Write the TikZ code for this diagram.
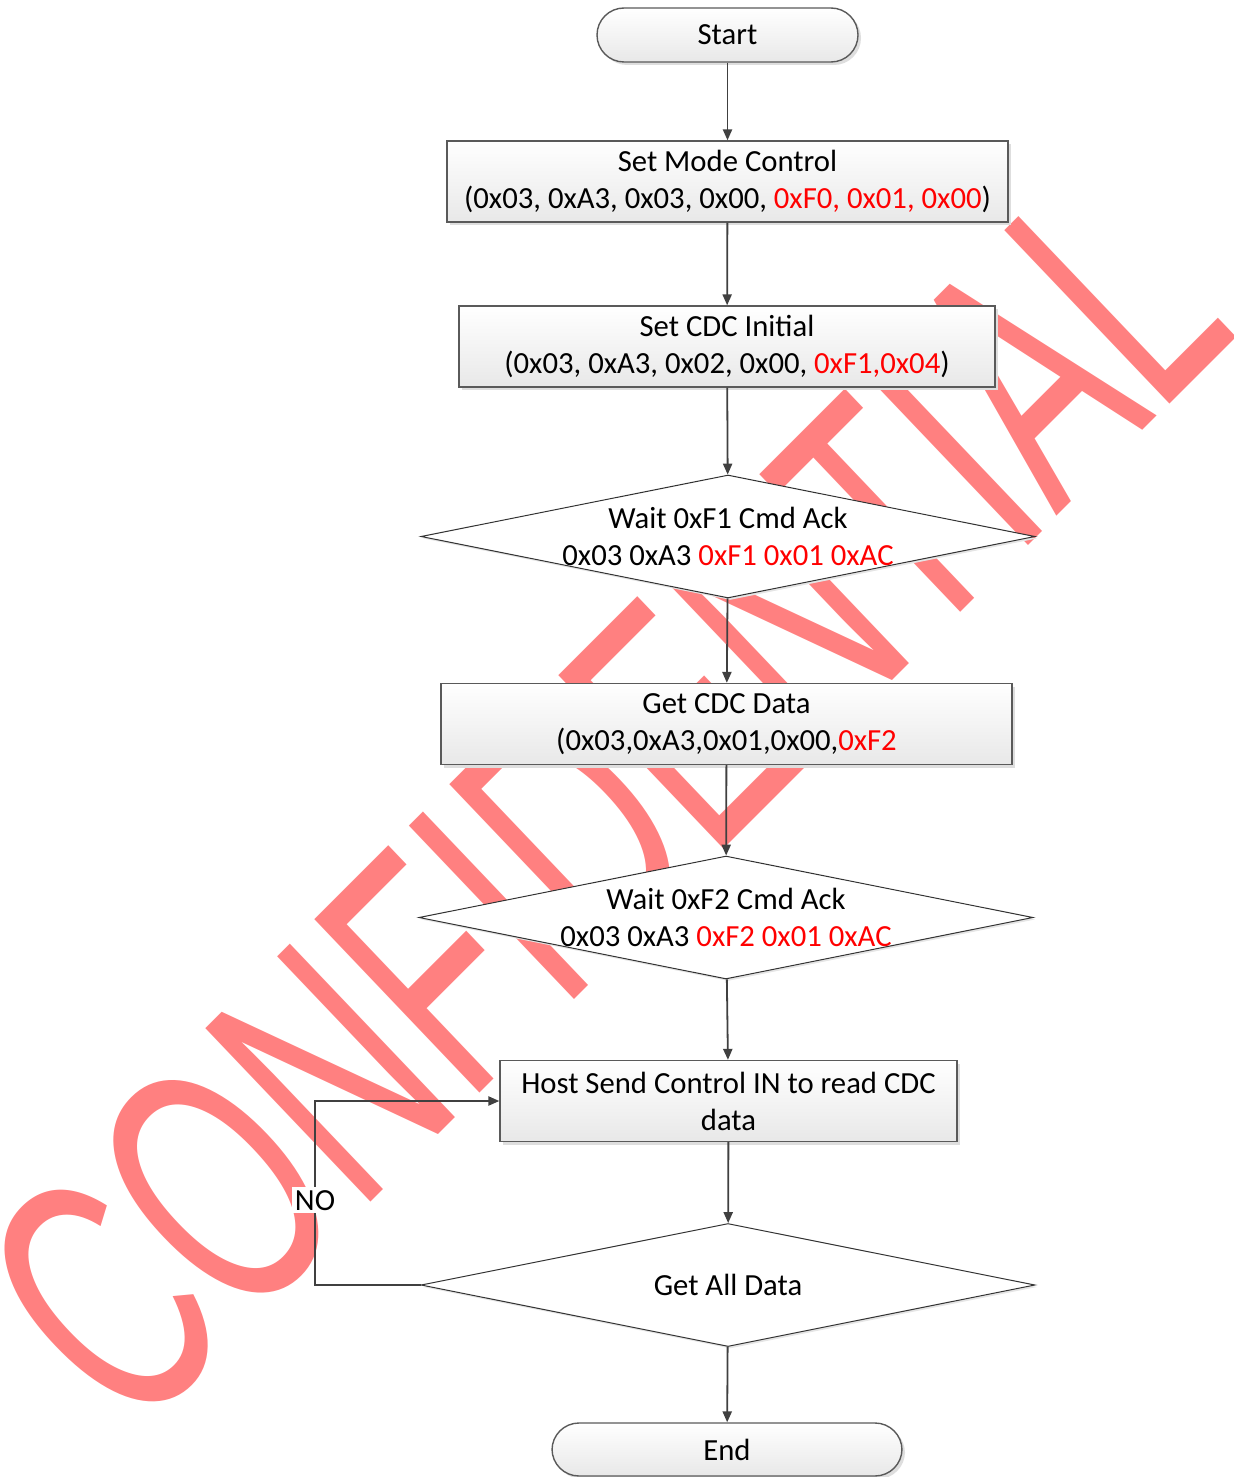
\documentclass[tikz,border=0pt]{standalone}
\usepackage{fontspec}
\setmainfont{Carlito}
\newfontfamily\wmfont{Liberation Sans}
\usetikzlibrary{positioning,shapes.geometric,arrows.meta,shadows}
\definecolor{wmred}{HTML}{FF8080}
\definecolor{hexred}{HTML}{FF0000}
\definecolor{linegray}{HTML}{404040}
\definecolor{boxgray}{HTML}{5A5A5A}
\newcommand{\redtxt}[1]{\textcolor{hexred}{#1}}

\tikzset{
  wmtext/.style={text=wmred,font=\wmfont\fontsize{174pt}{174pt}\selectfont,inner sep=0pt,rotate=45,xscale=0.615,xslant=0.04},
  procbox/.style={draw=boxgray,line width=0.7pt,top color=white,bottom color=black!9,
    minimum height=40.5pt,align=center,inner sep=2pt,
    drop shadow={shadow xshift=1.5pt,shadow yshift=-1.5pt,fill=black!13,opacity=1}},
  termbox/.style={procbox,rounded corners=13.5pt,minimum height=27pt},
  decision/.style={diamond,draw=black!80,line width=0.5pt,fill=white,inner sep=0pt,
    minimum width=307pt,minimum height=61.5pt,
    drop shadow={shadow xshift=1pt,shadow yshift=-1pt,fill=black!10,opacity=1}},
  dtext/.style={align=center,inner sep=0pt},
  flowarrow/.style={draw=linegray,line width=0.9pt,-{Triangle[length=5.5pt,width=4.6pt]}},
  nolabel/.style={fill=white,inner sep=1.5pt}
}

\begin{document}
\begin{tikzpicture}[x=0.5pt,y=-0.5pt,font=\fontsize{15.35pt}{18.5pt}\selectfont]
\useasboundingbox (0,0) rectangle (1234,1477);
% watermark behind everything
\node[wmtext] (wm) at (604,800) {CONFIDENTIAL};

\node[termbox,minimum width=130.5pt] (start) at (727.5,35) {Start};
\node[procbox,minimum width=280.5pt] (mode) at (727.5,181.5)
  {Set Mode Control\\(0x03, 0xA3, 0x03, 0x00, \redtxt{0xF0, 0x01, 0x00})};
\node[procbox,minimum width=268pt] (init) at (727,346.5)
  {Set CDC Initial\\(0x03, 0xA3, 0x02, 0x00, \redtxt{0xF1,0x04})};
\node[decision] (ack1) at (728,536.5) {};
\node[dtext] (ack1t) at (ack1) {Wait 0xF1 Cmd Ack\\0x03 0xA3 \redtxt{0xF1 0x01 0xAC}};
\node[procbox,minimum width=285.5pt] (get) at (726.5,724)
  {Get CDC Data\\(0x03,0xA3,0x01,0x00,\redtxt{0xF2}};
\node[decision] (ack2) at (726,917.5) {};
\node[dtext] (ack2t) at (ack2) {Wait 0xF2 Cmd Ack\\0x03 0xA3 \redtxt{0xF2 0x01 0xAC}};
\node[procbox,minimum width=228.5pt] (host) at (728.5,1101)
  {Host Send Control IN to read CDC\\data};
\node[decision] (all) at (728,1285) {};
\node[dtext] (allt) at (all) {Get All Data};
\node[termbox,minimum width=175pt,minimum height=26.5pt] (end) at (727,1449.5) {End};

% connectors
\draw[flowarrow] (start) -- (mode);
\draw[flowarrow] (mode) -- (init);
\draw[flowarrow] (init) -- (ack1);
\draw[flowarrow] (ack1) -- (get);
\draw[flowarrow] (get) -- (ack2);
\draw[flowarrow] (ack2) -- (host);
\draw[flowarrow] (host) -- (all);
\draw[flowarrow] (all) -- (end);
\coordinate (loop) at (315,1285);
\draw[flowarrow] (all.west) -- (loop) |- node[nolabel,pos=0.23] (no) {NO} (host.west);
\end{tikzpicture}
\end{document}
